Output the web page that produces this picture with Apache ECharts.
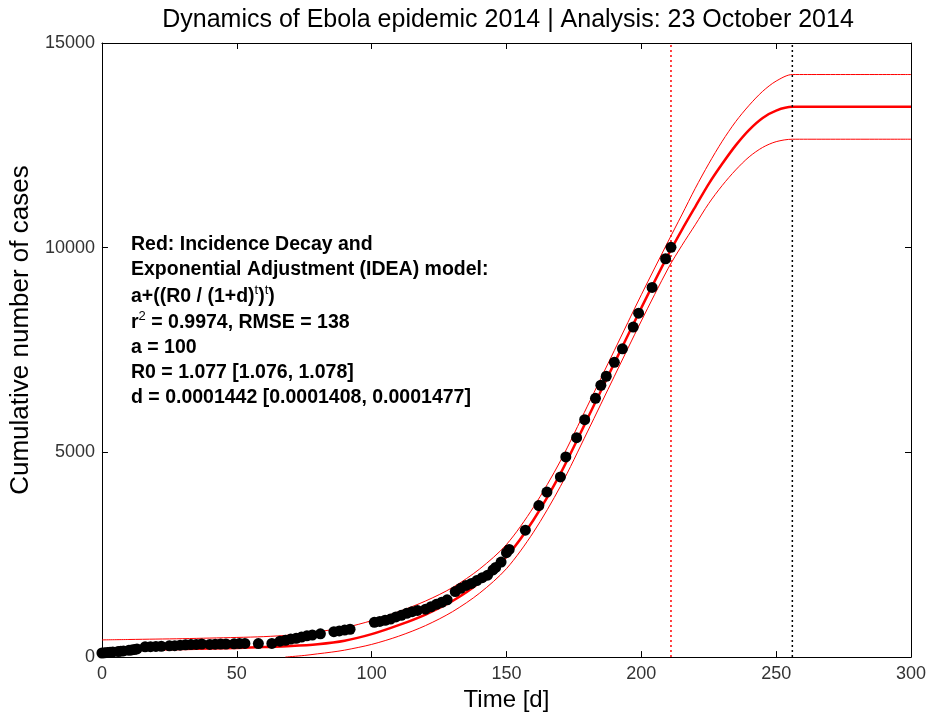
<!DOCTYPE html>
<html>
<head>
<meta charset="utf-8">
<script src="https://cdn.jsdelivr.net/npm/echarts@6/dist/echarts.min.js"></script>
<style>
  html, body { margin: 0; padding: 0; background: #fff; }
  #main { width: 930px; height: 717px; }
</style>
</head>
<body>
<div id="main"></div>
<script>
// observed cumulative cases (black dots)
const caseTimes = [0,1,2,3,4,6,7,8,10,11,12,13,16,18,20,22,25,27,29,31,33,35,37,40,42,44,46,49,51,53,58,63,66,68,70,72,74,76,78,81,86,88,90,92,101,103,105,107,109,111,113,115,117,120,122,124,126,128,131,133,135,137,139,141,143,145,146,148,150,151,157,162,165,170,172,176,179,183,185,187,190,193,197,199,204,209,211]
const caseCounts = [100,105,115,120,125,135,145,150,165,175,185,200,250,255,260,265,275,280,290,300,305,310,320,310,315,320,320,325,330,335,330,335,390,410,440,460,490,520,540,570,620,640,660,680,850,870,900,930,980,1020,1070,1110,1140,1170,1230,1290,1340,1400,1600,1680,1750,1800,1870,1940,2000,2130,2190,2320,2550,2630,3100,3700,4030,4400,4890,5360,5800,6320,6640,6860,7200,7530,8060,8400,9030,9730,10010]

// IDEA model fit and bounds (red lines)
const fitTimes = [0,10,20,30,40,50,60,70,80,90,100,110,120,130,140,150,160,170,180,190,200,210,215,220,225,230,235,240,245,250,256,300]
const fitMid = [130,165,185,200,210,225,245,270,315,400,560,780,1040,1370,1820,2450,3350,4480,5820,7180,8530,9830,10430,11000,11560,12050,12500,12880,13170,13350,13440,13440]
const fitUpper = [420,430,440,450,465,480,500,540,620,720,890,1110,1370,1700,2150,2750,3660,4790,6130,7490,8850,10160,10800,11450,12050,12600,13080,13480,13820,14070,14230,14230]
const lowerTimes = [68,75,80,85,90,100,110,120,130,140,150,160,170,180,190,200,210,215,220,225,230,235,240,245,250,256,300]
const fitLower = [0,40,80,120,170,310,510,770,1110,1560,2160,3050,4170,5500,6860,8210,9500,10050,10560,11080,11520,11900,12220,12450,12590,12650,12650]

// vertical markers
const analysisDay = 211
const projectionEnd = 256

const xTicks = { min: 0, max: 300, interval: 50 }
const yTicks = { min: 0, max: 15000, interval: 5000 }

const FONT = 'Liberation Sans, Arial, sans-serif'

const zip = (xs, ys) => xs.map((x, i) => [x, ys[i]])

const chart = echarts.init(document.getElementById('main'))

const axisCommon = {
  type: 'value',
  axisLine: { show: true, onZero: false, lineStyle: { color: '#000', width: 1 } },
  axisTick: { show: true, inside: true, length: 6, lineStyle: { color: '#000' } },
  splitLine: { show: false }
}

const annotation = [
  { y: 245, text: 'Red: Incidence Decay and' },
  { y: 270, text: 'Exponential Adjustment (IDEA) model:' },
  { y: 297, text: 'a+((R0 / (1+d){s|t}){s|t})' },
  { y: 323, text: 'r{s|2} = 0.9974, RMSE = 138' },
  { y: 348, text: 'a = 100' },
  { y: 373, text: 'R0 = 1.077 [1.076, 1.078]' },
  { y: 398, text: 'd = 0.0001442 [0.0001408, 0.0001477]' }
]

const option = {
  animation: false,
  backgroundColor: '#fff',
  title: {
    text: 'Dynamics of Ebola epidemic 2014 | Analysis: 23 October 2014',
    left: 503,
    textAlign: 'center',
    top: 3,
    textStyle: { fontFamily: FONT, fontSize: 25, fontWeight: 'normal', color: '#000' }
  },
  grid: { left: 100, right: 19, top: 43, bottom: 59 },
  xAxis: [
    {
      ...axisCommon, ...xTicks, position: 'bottom',
      axisLabel: { color: '#333', fontFamily: FONT, fontSize: 18, margin: 8 },
      name: 'Time [d]', nameLocation: 'middle', nameGap: 22,
      nameTextStyle: { fontFamily: FONT, fontSize: 24, color: '#000', verticalAlign: 'top' }
    },
    { ...axisCommon, ...xTicks, position: 'top', axisLabel: { show: false } }
  ],
  yAxis: [
    {
      ...axisCommon, ...yTicks, position: 'left',
      axisLabel: { color: '#333', fontFamily: FONT, fontSize: 18, margin: 7, formatter: v => String(v) },
      name: 'Cumulative number of cases', nameLocation: 'middle', nameGap: 61,
      nameTextStyle: { fontFamily: FONT, fontSize: 26, color: '#000', padding: [0, 0, 0, 40] }
    },
    { ...axisCommon, ...yTicks, position: 'right', axisLabel: { show: false } }
  ],
  graphic: annotation.map(line => ({
    type: 'text',
    x: 131,
    y: line.y,
    style: {
      text: line.text,
      fontFamily: FONT,
      fontSize: 19.5,
      fontWeight: 'bold',
      fill: '#000',
      verticalAlign: 'middle',
      rich: {
        s: { fontFamily: FONT, fontSize: 13, fontWeight: 'normal', padding: [0, 0, 14, 0] }
      }
    }
  })),
  series: [
    {
      type: 'line', data: zip(fitTimes, fitUpper), smooth: 0.3, showSymbol: false,
      lineStyle: { color: '#ff0000', width: 1 }, z: 2
    },
    {
      type: 'line', data: zip(lowerTimes, fitLower), smooth: 0.3, showSymbol: false,
      lineStyle: { color: '#ff0000', width: 1 }, z: 2
    },
    {
      type: 'line', data: zip(fitTimes, fitMid), smooth: 0.3, showSymbol: false,
      lineStyle: { color: '#ff0000', width: 2.5 }, z: 3
    },
    {
      type: 'line', data: [[analysisDay, yTicks.min], [analysisDay, yTicks.max]], showSymbol: false,
      lineStyle: { color: '#ff0000', width: 1.5, type: [2, 3] }, z: 4
    },
    {
      type: 'line', data: [[projectionEnd, yTicks.min], [projectionEnd, yTicks.max]], showSymbol: false,
      lineStyle: { color: '#000', width: 1.5, type: [2, 3] }, z: 4
    },
    {
      type: 'scatter', data: zip(caseTimes, caseCounts), symbol: 'circle', symbolSize: 11,
      itemStyle: { color: '#000', opacity: 1 }, z: 5
    }
  ]
}

chart.setOption(option)
</script>
</body>
</html>
